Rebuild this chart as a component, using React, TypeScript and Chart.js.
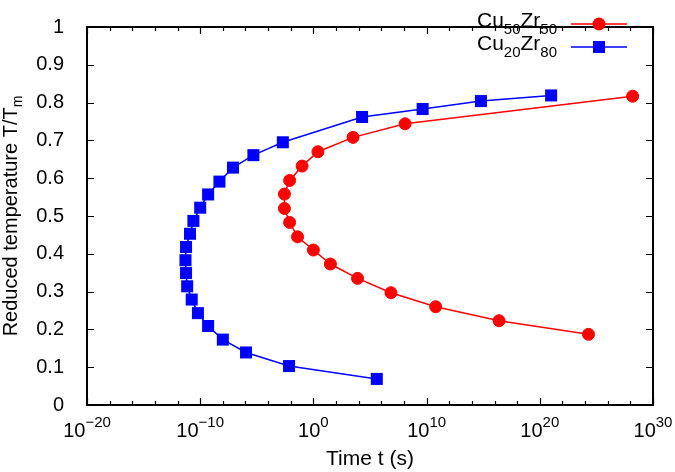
import React, { useEffect, useRef } from "react";
import { Chart, registerables } from "chart.js";

Chart.register(...registerables);

// log10 of time (s) and reduced temperature
const cu50LogTime = [28.2, 8.1, 3.5, 0.4, -1.0, -2.1, -2.56, -2.56, -2.1, -1.4, 0.0, 1.5, 3.9, 6.85, 10.8, 16.4, 24.3];
const cu50Temp = [0.817, 0.744, 0.708, 0.67, 0.632, 0.594, 0.558, 0.52, 0.483, 0.445, 0.41, 0.373, 0.335, 0.297, 0.26, 0.223, 0.187];

const cu20LogTime = [5.6, -2.15, -5.95, -8.0, -9.3, -10.2, -10.75, -11.15, -11.25, -11.3, -11.25, -10.9, -10.6, -10.0, -9.3, -8.3, -7.1, -5.3, -2.7, 4.3, 9.65, 14.8, 21.0];
const cu20Temp = [0.069, 0.103, 0.139, 0.173, 0.209, 0.243, 0.279, 0.314, 0.349, 0.383, 0.418, 0.453, 0.487, 0.522, 0.557, 0.591, 0.628, 0.661, 0.695, 0.762, 0.783, 0.804, 0.819];

// x axis ticks (exponents), labelled every 10 decades
const xTickExps = [-20, -18, -16, -14, -12, -10, -8, -6, -4, -2, 0, 2, 4, 6, 8, 10, 12, 14, 16, 18, 20, 22, 24, 26, 28, 30];

const FONT = "'Liberation Sans', Arial, sans-serif";
const RED = "#ff0000";
const BLUE = "#0000ff";

const toPoints = (logs: number[], ys: number[]) => logs.map((e, i) => ({ x: Math.pow(10, e), y: ys[i] }));

// draws text pieces [text, isScript] from x; scripts moved by shift
function drawRich(ctx: CanvasRenderingContext2D, parts: [string, boolean][], x: number, y: number, big: number, small: number, shift: number) {
  let cx = x;
  for (const [t, script] of parts) {
    ctx.font = `${script ? small : big}px ${FONT}`;
    ctx.fillText(t, cx, script ? y + shift : y);
    cx += ctx.measureText(t).width;
  }
}

function richWidth(ctx: CanvasRenderingContext2D, parts: [string, boolean][], big: number, small: number) {
  let w = 0;
  for (const [t, script] of parts) {
    ctx.font = `${script ? small : big}px ${FONT}`;
    w += ctx.measureText(t).width;
  }
  return w;
}

const framePlugin = {
  id: "gnuframe",
  afterDraw(chart: any) {
    const ctx: CanvasRenderingContext2D = chart.ctx;
    const { left, right, top, bottom } = chart.chartArea;
    const xs = chart.scales.x;
    const ys = chart.scales.y;
    ctx.save();
    ctx.strokeStyle = "#000";
    ctx.fillStyle = "#000";

    // inward ticks
    ctx.lineWidth = 1.2;
    ctx.beginPath();
    xs.ticks.forEach((t: any) => {
      const px = Math.round(xs.getPixelForValue(t.value)) + 0.5;
      const e = Math.round(Math.log10(t.value));
      const len = e % 10 === 0 ? 7 : 4;
      ctx.moveTo(px, bottom);
      ctx.lineTo(px, bottom - len);
      ctx.moveTo(px, top);
      ctx.lineTo(px, top + len);
    });
    ys.ticks.forEach((t: any) => {
      const py = Math.round(ys.getPixelForValue(t.value)) + 0.5;
      ctx.moveTo(left, py);
      ctx.lineTo(left + 7, py);
      ctx.moveTo(right, py);
      ctx.lineTo(right - 7, py);
    });
    ctx.stroke();

    // frame
    ctx.lineWidth = 2;
    ctx.strokeRect(left, top, right - left, bottom - top);

    // x tick labels 10^n
    ctx.textAlign = "left";
    ctx.textBaseline = "alphabetic";
    xs.ticks.forEach((t: any) => {
      const e = Math.round(Math.log10(t.value));
      if (e % 10 !== 0) return;
      const parts: [string, boolean][] = [["10", false], [e < 0 ? "\u2212" + -e : String(e), true]];
      const w = richWidth(ctx, parts, 20, 15);
      const px = xs.getPixelForValue(t.value);
      drawRich(ctx, parts, px - w / 2, 437, 20, 15, -10);
    });

    // x title
    ctx.font = `21px ${FONT}`;
    ctx.textAlign = "center";
    ctx.fillText("Time t (s)", (left + right) / 2, 465);

    // y title
    ctx.textAlign = "left";
    const yParts: [string, boolean][] = [["Reduced temperature T/T", false], ["m", true]];
    ctx.save();
    ctx.translate(17, (top + bottom) / 2);
    ctx.rotate(-Math.PI / 2);
    const yw = richWidth(ctx, yParts, 20, 14);
    drawRich(ctx, yParts, -yw / 2, 0, 20, 14, 5);
    ctx.restore();

    // legend
    const rows: { parts: [string, boolean][]; color: string; square: boolean; y: number }[] = [
      { parts: [["Cu", false], ["50", true], ["Zr", false], ["50", true]], color: RED, square: false, y: 24 },
      { parts: [["Cu", false], ["20", true], ["Zr", false], ["80", true]], color: BLUE, square: true, y: 47 },
    ];
    rows.forEach((r) => {
      const w = richWidth(ctx, r.parts, 21, 15);
      ctx.fillStyle = "#000";
      drawRich(ctx, r.parts, 557 - w, r.y + 3, 21, 15, 7);
      ctx.strokeStyle = r.color;
      ctx.fillStyle = r.color;
      ctx.lineWidth = 1.5;
      ctx.beginPath();
      ctx.moveTo(571, r.y);
      ctx.lineTo(627, r.y);
      ctx.stroke();
      if (r.square) {
        ctx.fillRect(599 - 6, r.y - 6, 12, 12);
      } else {
        ctx.beginPath();
        ctx.arc(599, r.y, 6.5, 0, Math.PI * 2);
        ctx.fill();
      }
    });
    ctx.restore();
  },
};

const App = () => {
  const canvasRef = useRef<HTMLCanvasElement>(null);

  useEffect(() => {
    const chart = new Chart(canvasRef.current as HTMLCanvasElement, {
      type: "line",
      data: {
        datasets: [
          {
            label: "Cu50Zr50",
            data: toPoints(cu50LogTime, cu50Temp),
            borderColor: RED,
            backgroundColor: RED,
            borderWidth: 1.5,
            pointStyle: "circle",
            pointRadius: 6,
            pointBorderWidth: 1,
            tension: 0,
          },
          {
            label: "Cu20Zr80",
            data: toPoints(cu20LogTime, cu20Temp),
            borderColor: BLUE,
            backgroundColor: BLUE,
            borderWidth: 1.5,
            pointStyle: "rect",
            pointRadius: 8.5,
            pointBorderWidth: 0,
            tension: 0,
          },
        ],
      },
      options: {
        responsive: true,
        maintainAspectRatio: false,
        animation: false,
        layout: { padding: { top: 8, right: 22, left: 0, bottom: 0 } },
        plugins: {
          legend: { display: false },
          tooltip: { enabled: false },
        },
        scales: {
          x: {
            type: "logarithmic",
            min: 1e-20,
            max: 1e30,
            grid: { display: false },
            border: { display: false },
            ticks: { display: false },
            afterBuildTicks: (scale: any) => {
              scale.ticks = xTickExps.map((e) => ({ value: Math.pow(10, e) }));
            },
            afterFit: (scale: any) => {
              scale.height = 67;
            },
          },
          y: {
            type: "linear",
            min: 0,
            max: 1,
            grid: { display: false },
            border: { display: false },
            ticks: {
              stepSize: 0.1,
              padding: 15,
              color: "#000",
              font: { family: FONT, size: 20 },
              callback: (v: any) => {
                const n = Number(v);
                if (Math.abs(n) < 1e-9) return "0";
                if (Math.abs(n - 1) < 1e-9) return "1";
                return n.toFixed(1);
              },
            },
            afterFit: (scale: any) => {
              scale.width = 87;
            },
          },
        },
      },
      plugins: [framePlugin],
    });

    return () => {
      chart.destroy();
    };
  }, []);

  return (
    <div style={{ position: "absolute", left: 0, top: 0, width: 675, height: 472, background: "#fff" }}>
      <canvas ref={canvasRef}></canvas>
    </div>
  );
};

export default App;
